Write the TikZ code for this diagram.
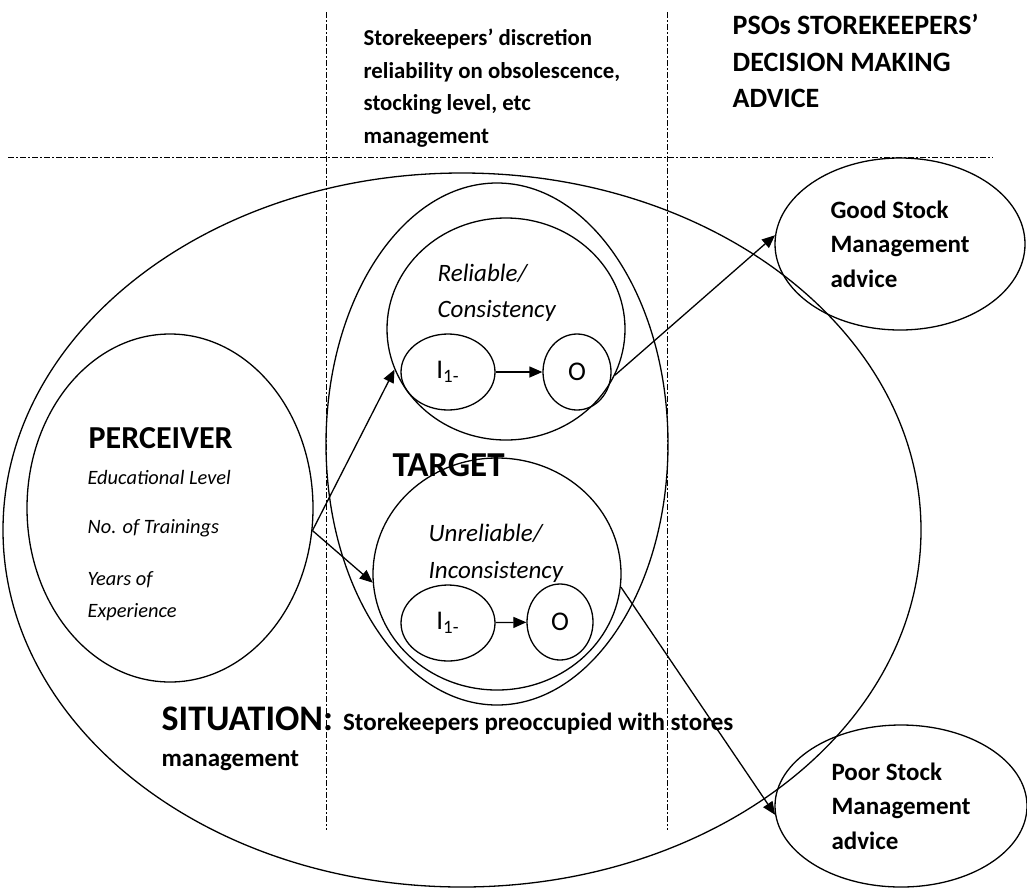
\documentclass[tikz,border=0pt]{standalone}
\usepackage{fontspec}
\setmainfont{Carlito}
\usetikzlibrary{shapes.geometric,arrows.meta}

\begin{document}
\begin{tikzpicture}[x=0.5pt,y=-0.5pt,line width=0.65pt,
		oval/.style={draw,ellipse,inner sep=0pt},
		divider/.style={line width=0.5pt,dash pattern=on 3pt off 1.2pt on 0.6pt off 1.2pt},
		flow/.style={-{Triangle[length=6.5pt,width=5.5pt]}},
		txt/.style={anchor=west,align=left,inner sep=0pt},
		head/.style={txt,font=\bfseries\fontsize{11.4}{16.25}\selectfont},
		item/.style={txt,font=\itshape\fontsize{10.2}{16}\selectfont},
		io/.style={oval,font=\fontsize{13.5}{16}\selectfont}]
		
		\useasboundingbox (0,0) rectangle (1027,889);
		
		% dividers
		\draw[divider] (8,157) -- (993,157);
		\draw[divider] (326,12) -- (326,830);
		\draw[divider] (667,12) -- (667,830);
		
		% column headings
		\node[head] (discretion) at (363,88) {Storekeepers’ discretion\\reliability on obsolescence,\\stocking level, etc\\management};
		\node[head,font=\bfseries\fontsize{14}{18.25}\selectfont] (advicehead) at (732,61) {PSOs STOREKEEPERS’\\DECISION MAKING\\ADVICE};
		
		% situation
		\node[oval,minimum width=459pt,minimum height=357pt] (situation) at (462,530) {};
		\node[txt,anchor=base west,font=\bfseries\fontsize{12.5}{15}\selectfont] (sitlbl) at (161,730) {{\fontsize{18}{22}\selectfont SITUATION:}\hspace{5pt}Storekeepers preoccupied with stores};
		\node[txt,anchor=base west,font=\bfseries\fontsize{12.5}{15}\selectfont] (sitmore) at (161,766) {management};
		
		% perceiver
		\node[oval,minimum width=143pt,minimum height=174pt] (perceiver) at (170,508) {};
		\node[txt,font=\bfseries\fontsize{16}{19}\selectfont] (perclbl) at (88,438) {PERCEIVER};
		\node[item] (edu) at (87,477) {Educational Level};
		\node[item] (train) at (87,528) {No. of Trainings};
		\node[item] (years) at (87,596) {Years of\\Experience};
		
		% target
		\node[oval,minimum width=171pt,minimum height=261pt] (target) at (497,444) {};
		\node[txt,font=\bfseries\fontsize{17.5}{21}\selectfont] (targetlbl) at (392,465) {TARGET};
		
		\node[oval,minimum width=119pt,minimum height=111pt] (reliable) at (506,329) {};
		\node[item,font=\itshape\fontsize{12.5}{18}\selectfont] (reliablelbl) at (437,293) {Reliable/\\Consistency};
		\node[io,minimum width=47pt,minimum height=38pt] (i1top) at (448,372) {I\textsubscript{1-}};
		\node[io,minimum width=34pt,minimum height=38pt] (otop) at (577,372) {O};
		
		\node[oval,minimum width=124pt,minimum height=116pt] (unreliable) at (497,574) {};
		\node[item,font=\itshape\fontsize{12.5}{18.5}\selectfont] (unreliablelbl) at (428,553) {Unreliable/\\Inconsistency};
		\node[io,minimum width=47pt,minimum height=38pt] (i1bot) at (448,623) {I\textsubscript{1-}};
		\node[io,minimum width=33pt,minimum height=38pt] (obot) at (560,622) {O};
		
		% advice
		\node[oval,minimum width=125pt,minimum height=86pt,align=left,font=\bfseries\fontsize{12.5}{17.25}\selectfont] (good) at (900,244) {Good Stock\\Management\\advice};
		\node[oval,minimum width=126pt,minimum height=81pt,align=left,font=\bfseries\fontsize{12.5}{17.25}\selectfont] (poor) at (901,806) {Poor Stock\\Management\\advice};
		
		% arrows
		\draw[flow] (i1top) -- (otop);
		\draw[flow] (i1bot) -- (obot);
		\draw[flow] (perceiver.-9) -- (reliable.200);
		\draw[flow] (perceiver.-9) -- (unreliable.184);
		\draw[flow] (reliable.-23) -- (good.176);
		\draw[flow] (unreliable.-6) -- (poor.184);
		
	\end{tikzpicture}
\end{document}
